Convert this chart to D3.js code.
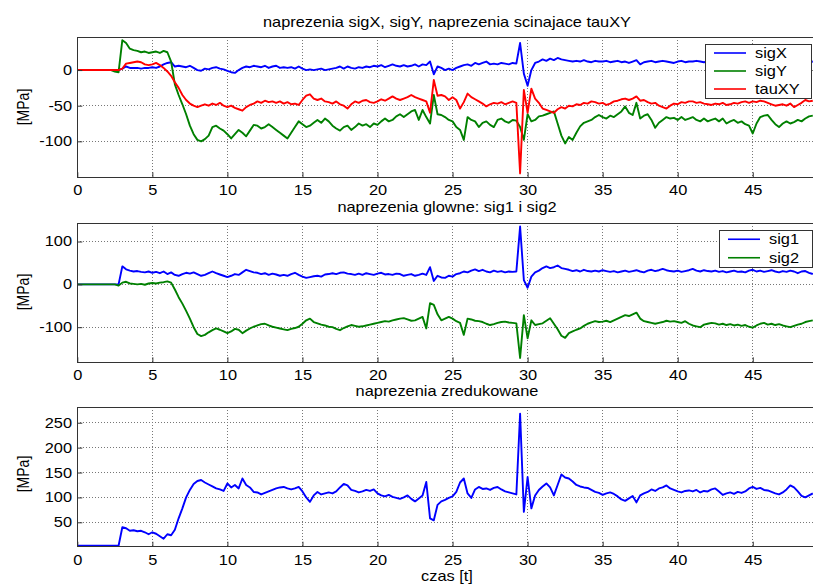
<!DOCTYPE html>
<html><head><meta charset="utf-8">
<script src="https://cdn.jsdelivr.net/npm/d3@7"></script>
<style>
html,body{margin:0;padding:0;background:#fff;}
svg{display:block;}
text{font-family:"Liberation Sans",Arial,Helvetica,sans-serif;fill:#000;}
</style></head>
<body><svg id="chart" width="813" height="585"></svg>
<script>
// ---------------- DATA ----------------
const sampleStep = 0.25;          // seconds between samples, t = 0 .. 49
const xTicks = [0,5,10,15,20,25,30,35,40,45];

const titles = ["naprezenia sigX, sigY, naprezenia scinajace tauXY",
                "naprezenia glowne: sig1 i sig2",
                "naprezenia zredukowane"];
const yLabel = "[MPa]";
const xLabel = "czas [t]";

const yTicks1 = [-100,-50,0];
const yTicks2 = [-100,0,100];
const yTicks3 = [50,100,150,200,250];

const sigX = [
0,0,0,0, 0,0,0,0, 0,0,0,0, 2,5,3,3, 3,2,3,3, 4,3,5,8, 10,11,5,6, 5,4,6,3, 0,-1,2,1, 3,4,2,1,
-1,-3,-4,0, 3,5,4,6, 5,4,6,3, 5,6,3,4, 3,4,2,5, 2,0,1,0, 1,2,0,1, 2,3,5,2, 5,3,2,4, 3,5,4,6,
5,7,4,6, 8,6,5,7, 5,6,8,5, 8,7,12,-6, 5,3,0,2, 0,3,5,7, 8,6,10,8, 10,12,8,9, 8,10,9,8, 10,9,38,-5,
-22,0,10,12, 15,13,16,14, 17,15,14,13, 12,13,12,14, 12,11,13,12, 12,13,11,12, 13,11,12,10, 12,14,8,11, 12,13,11,12, 13,12,11,10,
12,13,11,12, 12,13,12,11, 12,11,13,12, 13,12,14,11, 12,10,11,13, 11,10,12,11, 10,12,11,13, 12,11,10,12, 11,12,10,11, 12];

const sigY = [
0,0,0,0, 0,0,0,0, 0,0,-2,-3, 42,38,30,28, 27,25,26,24, 25,26,24,27, 25,12,-20,-35, -48,-62,-78,-90, -98,-100,-97,-92, -80,-78,-82,-85,
-90,-96,-90,-84, -88,-93,-85,-77, -78,-82,-80,-76, -80,-84,-88,-92, -96,-88,-80,-72, -76,-80,-78,-74, -70,-74,-68,-72, -78,-82,-85,-80, -78,-84,-80,-75, -78,-76,-80,-75,
-77,-72,-68,-72, -70,-65,-62,-66, -62,-58,-56,-70, -56,-66,-75,-35, -62,-63,-66,-70, -72,-80,-84,-98, -66,-70,-72,-80, -74,-72,-77,-80, -70,-68,-72,-74, -70,-71,-80,-98,
-62,-72,-70,-65, -64,-62,-60,-58, -75,-92,-103,-94, -98,-88,-79,-74, -72,-70,-66,-63, -66,-68,-64,-66, -62,-58,-51,-60, -63,-46,-68,-64, -62,-70,-81,-74, -70,-66,-68,-67,
-70,-66,-70,-68, -66,-70,-72,-68, -72,-70,-68,-72, -68,-75,-72,-70, -74,-72,-76,-78, -89,-75,-66,-64, -63,-70,-76,-80, -75,-72,-75,-73, -70,-72,-68,-65, -64];

const tauXY = [
0,0,0,0, 0,0,0,0, 0,0,0,0, 2,9,10,11, 12,11,8,7, 8,10,7,3, -2,-8,-17,-25, -35,-42,-47,-50, -52,-50,-48,-50, -47,-49,-46,-50,
-52,-50,-53,-55, -57,-52,-49,-47, -44,-46,-43,-45, -44,-46,-44,-47, -45,-48,-47,-49, -42,-36,-34,-40, -42,-40,-44,-45, -47,-44,-48,-50, -54,-48,-44,-46, -43,-42,-45,-46,
-44,-41,-43,-40, -37,-40,-42,-40, -38,-35,-38,-40, -42,-44,-60,-14, -36,-35,-37,-42, -38,-42,-54,-45, -33,-38,-41,-44, -47,-51,-48,-46, -47,-45,-48,-46, -44,-46,-145,-28,
-60,-26,-40,-46, -54,-56,-58,-60, -55,-52,-54,-50, -51,-48,-49,-46, -47,-44,-45,-47, -46,-49,-47,-44, -43,-41,-40,-42, -40,-37,-43,-42, -45,-47,-46,-50, -52,-54,-50,-47,
-48,-45,-46,-44, -44,-46,-45,-47, -48,-49,-47,-48, -46,-49,-48,-46, -47,-45,-44,-46, -44,-45,-43,-44, -46,-48,-50,-49, -48,-50,-47,-52, -49,-46,-42,-44, -43];

const sig1 = [
0,0,0,0, 0,0,0,0, 0,0,0,0, 42,35,32,30, 31,29,28,30, 27,29,26,30, 24,28,22,20, 24,27,25,28, 24,20,22,26, 30,26,23,20,
17,20,24,22, 28,34,31,28, 27,24,26,22, 25,23,20,22, 20,24,27,22, 18,15,17,19, 20,18,23,24, 26,24,27,28, 25,24,22,25, 22,26,24,22,
25,27,23,24, 22,25,24,20, 22,24,20,22, 25,22,40,8, 20,16,15,20, 18,24,26,30, 28,32,35,31, 34,30,28,32, 29,31,28,30, 29,30,135,10,
-8,18,28,32, 38,42,38,40, 44,38,36,34, 31,33,30,34, 31,30,32,30, 33,31,29,31, 28,30,32,29, 31,33,30,28, 32,34,31,33, 36,33,31,30,
32,29,31,33, 36,32,30,33, 31,30,32,29, 31,28,30,32, 29,30,28,32, 34,30,32,29, 31,33,30,28, 31,29,32,30, 26,30,31,27, 24];

const sig2 = [
0,0,0,0, 0,0,0,0, 0,0,0,-3, 4,6,2,1, 0,1,-1,2, 3,2,4,5, 7,4,-12,-30, -45,-62,-80,-100, -116,-121,-118,-112, -107,-103,-106,-110,
-114,-110,-104,-106, -114,-108,-103,-99, -96,-93,-92,-96, -99,-101,-103,-105, -107,-104,-102,-99, -92,-84,-80,-88, -91,-94,-96,-99, -100,-104,-107,-102, -98,-95,-97,-99, -98,-96,-94,-92,
-90,-88,-86,-87, -84,-82,-80,-79, -82,-85,-84,-80, -76,-103,-44,-48, -70,-84,-80,-76, -80,-86,-90,-118, -80,-82,-85,-86, -88,-92,-95,-93, -90,-88,-87,-89, -90,-91,-172,-72,
-126,-84,-95,-93, -91,-85,-79,-92, -105,-120,-125,-114, -110,-106,-103,-97, -92,-89,-86,-88, -87,-85,-88,-84, -80,-76,-72,-74, -70,-66,-80,-86, -88,-90,-92,-90, -88,-85,-87,-86,
-88,-90,-86,-92, -96,-98,-100,-94, -92,-90,-91,-94, -92,-95,-93,-96, -94,-97,-95,-99, -101,-96,-92,-90, -94,-92,-95,-93, -96,-98,-100,-97, -94,-92,-88,-86, -84];

const sigRed = [
3,3,3,3, 3,3,3,3, 3,3,3,3, 40,38,33,34, 32,33,30,26, 30,27,22,17, 26,24,35,58, 78,100,115,127, 133,135,130,126, 122,118,116,113,
128,120,125,118, 138,125,120,111, 110,106,109,112, 115,118,120,121, 118,116,118,121, 112,100,91,104, 111,106,108,110, 108,112,120,127, 124,115,113,110, 112,115,113,116,
108,104,102,105, 101,99,97,100, 104,97,92,98, 104,131,58,54, 85,92,95,99, 102,111,130,138, 108,99,116,121, 117,118,115,119, 121,116,112,110, 108,106,268,71,
141,78,104,115, 122,128,120,104, 125,146,140,138, 132,125,122,120, 119,115,111,109, 105,108,110,107, 102,96,93,98, 103,90,104,108, 111,116,113,118, 120,124,118,115,
112,110,113,114, 112,115,110,113, 112,116,118,112, 105,108,110,107, 111,109,112,118, 121,117,119,115, 114,111,108,106, 110,116,124,120, 112,103,100,104, 108];

const panels = [
  {title: titles[0], yDomain: [-150.5, 46], yTicks: yTicks1, top: 37.3, bottom: 177.3,
   series: [{name:"sigX", values:sigX, color:"#0000ff"},
            {name:"sigY", values:sigY, color:"#008000"},
            {name:"tauXY", values:tauXY, color:"#ff0000"}],
   legend: {x0:705, x1:811, y0:44, y1:98}},
  {title: titles[1], yDomain: [-182, 142.5], yTicks: yTicks2, top: 223.3, bottom: 362.3,
   series: [{name:"sig1", values:sig1, color:"#0000ff"},
            {name:"sig2", values:sig2, color:"#008000"}],
   legend: {x0:719, x1:812, y0:230, y1:267}},
  {title: titles[2], yDomain: [1, 281], yTicks: yTicks3, top: 407.3, bottom: 546.7,
   series: [{name:"sigRed", values:sigRed, color:"#0000ff"}],
   legend: null}
];

// ---------------- DRAW ----------------
const SX = 1.17;           // horizontal stretch of the original bitmap text
const left = 77.3, right = 812.8;
const svg = d3.select("#chart");
const x = d3.scaleLinear().domain([0, 49]).range([left, right]);
const fmt = d => String(d);   // plain hyphen minus, as in the original

function stretchedText(g, px, py, str, anchor, size) {
  return g.append("text")
    .attr("transform", `translate(${px},${py}) scale(${SX},1)`)
    .attr("text-anchor", anchor)
    .style("font-size", size + "px")
    .text(str);
}

panels.forEach((p, i) => {
  const y = d3.scaleLinear().domain(p.yDomain).range([p.bottom, p.top]);
  const g = svg.append("g");
  const h = p.bottom - p.top;

  // grid
  const grid = g.append("g").attr("stroke", "#777").attr("stroke-width", 1)
    .attr("stroke-dasharray", "1,2").attr("shape-rendering", "crispEdges");
  xTicks.slice(1).forEach(v => grid.append("line")
    .attr("x1", x(v)).attr("x2", x(v)).attr("y1", p.top).attr("y2", p.bottom));
  p.yTicks.forEach(v => grid.append("line")
    .attr("x1", left).attr("x2", right).attr("y1", y(v)).attr("y2", y(v)));

  // data
  const clipId = "clip" + i;
  svg.append("clipPath").attr("id", clipId).append("rect")
    .attr("x", left).attr("y", p.top).attr("width", right - left + 2).attr("height", h);
  const line = d3.line().x((d, k) => x(k * sampleStep)).y(d => y(d));
  p.series.forEach(s => {
    g.append("path").datum(s.values)
      .attr("clip-path", `url(#${clipId})`)
      .attr("fill", "none").attr("stroke", s.color).attr("stroke-width", 1.9)
      .attr("stroke-linejoin", "round").attr("d", line);
  });

  // frame
  g.append("rect").attr("x", left).attr("y", p.top)
    .attr("width", right - left + 4).attr("height", h)
    .attr("fill", "none").attr("stroke", "#333").attr("stroke-width", 1)
    .attr("shape-rendering", "crispEdges");

  // axes
  const xAxis = d3.axisBottom(x).tickValues(xTicks).tickFormat(fmt)
    .tickSizeInner(-5).tickSizeOuter(0).tickPadding(8);
  const gx = g.append("g").attr("transform", `translate(0,${p.bottom})`).call(xAxis);
  gx.select(".domain").remove();
  gx.selectAll(".tick line").attr("stroke", "#333");
  gx.selectAll(".tick text").style("font-size", "14px")
    .style("font-family", '"Liberation Sans",Arial,sans-serif')
    .attr("transform", `scale(${SX},1)`);

  const yAxis = d3.axisLeft(y).tickValues(p.yTicks).tickFormat(fmt)
    .tickSizeInner(-5).tickSizeOuter(0).tickPadding(4.5);
  const gy = g.append("g").attr("transform", `translate(${left},0)`).call(yAxis);
  gy.select(".domain").remove();
  gy.selectAll(".tick line").attr("stroke", "#333");
  gy.selectAll(".tick text").style("font-size", "14px")
    .style("font-family", '"Liberation Sans",Arial,sans-serif')
    .attr("transform", `scale(${SX},1)`);

  // title
  const titleY = [27, 212, 395.5][i];
  stretchedText(g, 447, titleY, p.title, "middle", 14);

  // y label
  const ly = [107, 292, 474][i];
  g.append("text")
    .attr("transform", `translate(29,${ly}) rotate(-90) scale(1,${SX})`)
    .attr("text-anchor", "middle").style("font-size", "14px").text(yLabel);

  // legend
  if (p.legend) {
    const L = p.legend;
    const lg = g.append("g");
    lg.append("rect").attr("x", L.x0).attr("y", L.y0).attr("width", L.x1 - L.x0)
      .attr("height", L.y1 - L.y0).attr("fill", "#fff").attr("stroke", "#333")
      .attr("shape-rendering", "crispEdges");
    const rowH = (L.y1 - L.y0) / p.series.length;
    p.series.forEach((s, k) => {
      const cy = L.y0 + rowH * (k + 0.5);
      lg.append("line").attr("x1", L.x0 + 9).attr("x2", L.x0 + 41)
        .attr("y1", cy).attr("y2", cy).attr("stroke", s.color).attr("stroke-width", 1.6);
      stretchedText(lg, L.x0 + 50, cy + 5, s.name, "start", 14);
    });
  }
});

// x label
stretchedText(svg, 447, 581, xLabel, "middle", 14);
</script>
</body></html>
